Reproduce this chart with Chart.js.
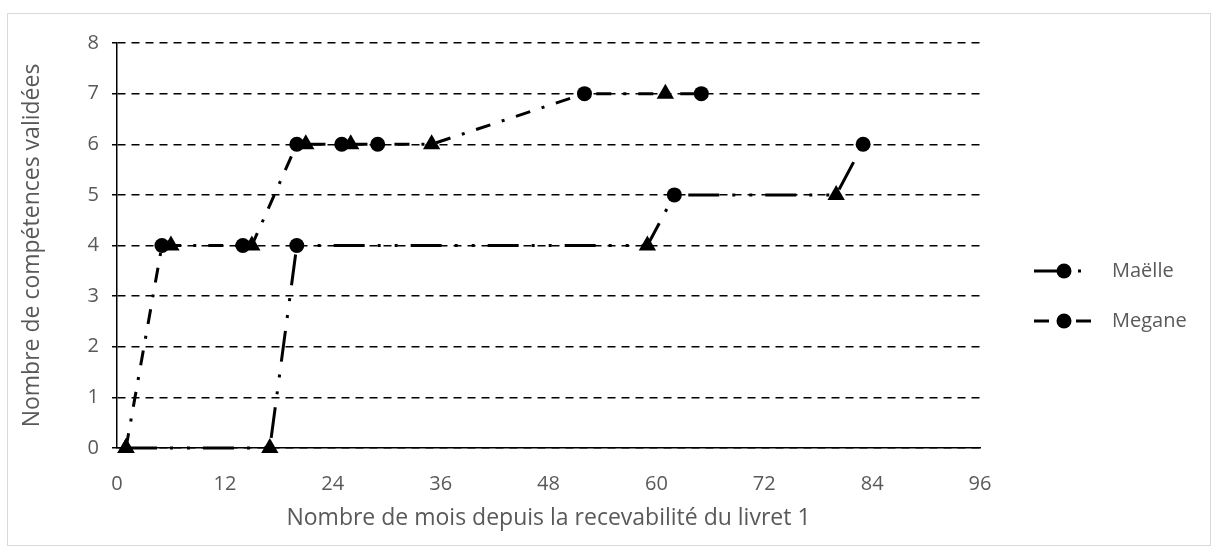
<!DOCTYPE html>
<html>
<head>
<meta charset="utf-8">
<script src="https://cdn.jsdelivr.net/npm/chart.js@4.4.0/dist/chart.umd.min.js"></script>
<style>
  html, body { margin: 0; padding: 0; background: #fff; }
  #wrap { position: relative; width: 1218px; height: 556px; }
  #frame { position: absolute; left: 7px; top: 13px; width: 1202px; height: 531px; border: 1.5px solid #d9d9d9; pointer-events: none; }
  canvas { position: absolute; left: 0; top: 0; }
</style>
</head>
<body>
<div id="wrap">
  <canvas id="chart" width="1218" height="556"></canvas>
  <div id="frame"></div>
</div>
<script>
// months since the "livret 1" was accepted, and number of validated skills
var meganeMonths = [1, 5, 6, 14, 15, 20, 21, 25, 26, 29, 35, 52, 61, 65];
var meganeSkills = [0, 4, 4, 4, 4, 6, 6, 6, 6, 6, 6, 7, 7, 7];
var maelleMonths = [1, 17, 20, 59, 62, 80, 83];
var maelleSkills = [0, 0, 4, 4, 5, 5, 6];
var seriesNames = ['Maëlle', 'Megane'];
var xRange = [0, 96, 12];   // min, max, step
var yRange = [0, 8, 1];

function toPoints(xs, ys) {
    return xs.map(function (x, i) { return { x: x, y: ys[i] }; });
}

var grey = '#595959';
var fontFamily = '"Open Sans", sans-serif';

// Legend drawn by hand so the dash pattern and the marker both show
var sideLegend = {
    id: 'sideLegend',
    afterDraw: function (chart) {
        var c = chart.ctx;
        var rows = [271, 321];
        chart.data.datasets.forEach(function (ds, i) {
            var y = rows[i];
            c.save();
            c.strokeStyle = '#000';
            c.lineWidth = 3;
            c.setLineDash(ds.borderDash);
            c.beginPath();
            c.moveTo(1034, y);
            c.lineTo(1094, y);
            c.stroke();
            c.setLineDash([]);
            c.fillStyle = '#000';
            c.beginPath();
            c.arc(1064, y, 7.5, 0, Math.PI * 2);
            c.fill();
            c.fillStyle = grey;
            c.font = '20px ' + fontFamily;
            c.textBaseline = 'middle';
            c.fillText(ds.label, 1112, y);
            c.restore();
        });
    }
};

var chart = new Chart(document.getElementById('chart'), {
    type: 'line',
    data: {
        datasets: [{
            label: seriesNames[0],
            data: toPoints(maelleMonths, maelleSkills),
            borderColor: '#000',
            backgroundColor: '#000',
            borderWidth: 3,
            borderDash: [31, 13, 3, 14, 3, 13],
            tension: 0,
            fill: false,
            clip: false,
            pointStyle: ['triangle', 'triangle', 'circle', 'triangle', 'circle', 'triangle', 'circle'],
            pointRadius: [10, 10, 7.5, 10, 7.5, 10, 7.5],
            pointBorderWidth: 0,
            pointBackgroundColor: '#000'
        }, {
            label: seriesNames[1],
            data: toPoints(meganeMonths, meganeSkills),
            borderColor: '#000',
            backgroundColor: '#000',
            borderWidth: 3,
            borderDash: [15, 12, 3, 12],
            tension: 0,
            fill: false,
            clip: false,
            pointStyle: ['triangle', 'circle', 'triangle', 'circle', 'triangle', 'circle', 'triangle',
                         'circle', 'triangle', 'circle', 'triangle', 'circle', 'triangle', 'circle'],
            pointRadius: [10, 7.5, 10, 7.5, 10, 7.5, 10, 7.5, 10, 7.5, 10, 7.5, 10, 7.5],
            pointBorderWidth: 0,
            pointBackgroundColor: '#000'
        }]
    },
    options: {
        responsive: false,
        animation: false,
        events: [],
        layout: { padding: { left: 10, top: 43, right: 238, bottom: 24 } },
        plugins: {
            legend: { display: false },
            tooltip: { enabled: false }
        },
        scales: {
            x: {
                type: 'linear',
                min: xRange[0],
                max: xRange[1],
                afterFit: function (scale) { scale.height = 84; },
                grid: { display: false, drawTicks: false },
                border: { display: true, color: '#000', width: 1.5 },
                ticks: { stepSize: xRange[2], color: grey, font: { family: fontFamily, size: 20 }, padding: 24, maxRotation: 0 },
                title: {
                    display: true,
                    text: 'Nombre de mois depuis la recevabilité du livret 1',
                    color: grey,
                    font: { family: fontFamily, size: 23 },
                    padding: { top: 2, bottom: 0 }
                }
            },
            y: {
                type: 'linear',
                min: yRange[0],
                max: yRange[1],
                afterFit: function (scale) { scale.width = 107; },
                ticks: { stepSize: yRange[2], color: grey, font: { family: fontFamily, size: 20 }, padding: 13 },
                grid: { color: '#000', lineWidth: 1.5, tickLength: 5, tickColor: '#000' },
                border: { display: true, color: '#000', width: 1.5, dash: [8, 6] },
                title: {
                    display: true,
                    text: 'Nombre de compétences validées',
                    color: grey,
                    font: { family: fontFamily, size: 23 },
                    padding: { top: 9, bottom: 0 }
                }
            }
        }
    },
    plugins: [sideLegend]
});
</script>
</body>
</html>
